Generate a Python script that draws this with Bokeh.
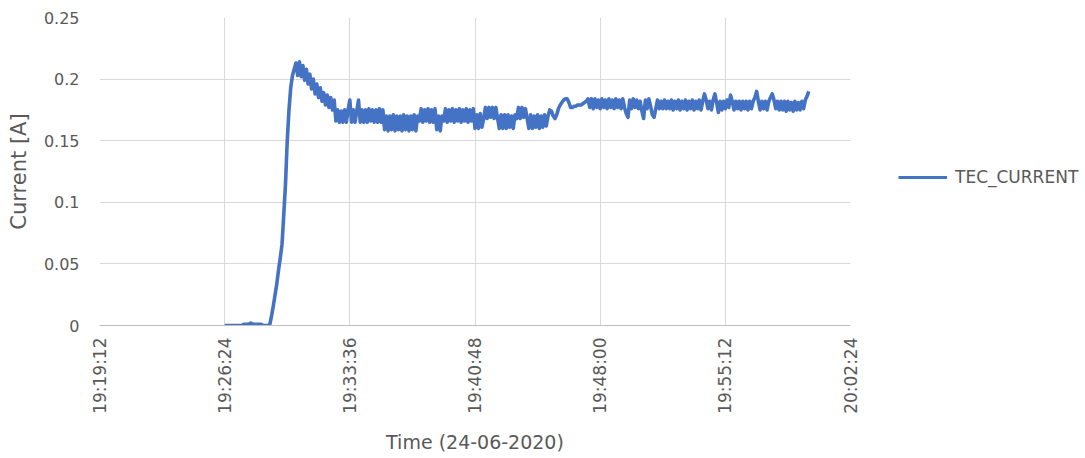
import math
import pandas as pd
from bokeh.plotting import figure
from bokeh.layouts import row
from bokeh.models import Range1d, FixedTicker, DatetimeTickFormatter, Legend, LegendItem, ColumnDataSource
from bokeh.embed import file_html
from bokeh.resources import INLINE

# ---- data ----
series_name = "TEC_CURRENT"
start_time = "2020-06-24 19:26:24"
sample_period = "6s"
current = [
    # 19:26:24
    0.000, 0.000, 0.000, 0.000, 0.000, 0.000, 0.000, 0.000, 0.000, 0.000,
    0.000, 0.001, 0.001, 0.001, 0.001, 0.002, 0.001, 0.001, 0.001, 0.001,
    # 19:28:24
    0.001, 0.001, 0.000, 0.000, 0.000, 0.000, 0.001, 0.008, 0.016, 0.025,
    0.034, 0.045, 0.055, 0.066, 0.090, 0.115, 0.150, 0.175, 0.193, 0.203,
    # 19:30:24
    0.208, 0.213, 0.203, 0.214, 0.202, 0.211, 0.199, 0.208, 0.196, 0.204,
    0.192, 0.200, 0.188, 0.196, 0.185, 0.193, 0.182, 0.189, 0.179, 0.187,
    # 19:32:24
    0.177, 0.185, 0.175, 0.183, 0.166, 0.175, 0.165, 0.174, 0.165, 0.175,
    0.165, 0.175, 0.183, 0.165, 0.175, 0.165, 0.174, 0.183, 0.165, 0.175,
    # 19:34:24
    0.165, 0.175, 0.165, 0.176, 0.166, 0.175, 0.165, 0.175, 0.165, 0.176,
    0.165, 0.175, 0.159, 0.170, 0.158, 0.170, 0.159, 0.171, 0.158, 0.170,
    # 19:36:24
    0.159, 0.170, 0.158, 0.171, 0.159, 0.170, 0.158, 0.170, 0.159, 0.171,
    0.158, 0.170, 0.166, 0.176, 0.165, 0.175, 0.166, 0.176, 0.165, 0.175,
    # 19:38:24
    0.165, 0.176, 0.159, 0.170, 0.158, 0.170, 0.166, 0.176, 0.165, 0.175,
    0.166, 0.176, 0.165, 0.175, 0.166, 0.176, 0.165, 0.175, 0.166, 0.176,
    # 19:40:24
    0.165, 0.175, 0.166, 0.176, 0.160, 0.171, 0.160, 0.172, 0.161, 0.168,
    0.177, 0.168, 0.177, 0.169, 0.177, 0.168, 0.177, 0.168, 0.160, 0.171,
    # 19:42:24
    0.160, 0.171, 0.160, 0.171, 0.161, 0.170, 0.160, 0.171, 0.168, 0.177,
    0.168, 0.177, 0.169, 0.176, 0.168, 0.160, 0.171, 0.160, 0.170, 0.161,
    # 19:44:24
    0.171, 0.160, 0.170, 0.161, 0.171, 0.162, 0.170, 0.175, 0.174, 0.170,
    0.168, 0.171, 0.176, 0.179, 0.181, 0.183, 0.184, 0.184, 0.181, 0.177,
    # 19:46:24
    0.177, 0.178, 0.178, 0.179, 0.179, 0.179, 0.180, 0.181, 0.182, 0.184,
    0.177, 0.184, 0.176, 0.184, 0.177, 0.183, 0.176, 0.184, 0.177, 0.183,
    # 19:48:24
    0.176, 0.184, 0.177, 0.183, 0.176, 0.184, 0.177, 0.183, 0.176, 0.184,
    0.177, 0.172, 0.169, 0.183, 0.176, 0.184, 0.177, 0.183, 0.176, 0.182,
    # 19:50:24
    0.174, 0.168, 0.183, 0.176, 0.184, 0.178, 0.171, 0.169, 0.176, 0.183,
    0.176, 0.182, 0.176, 0.183, 0.176, 0.182, 0.176, 0.183, 0.175, 0.182,
    # 19:52:24
    0.176, 0.183, 0.175, 0.182, 0.176, 0.183, 0.175, 0.182, 0.176, 0.183,
    0.175, 0.182, 0.176, 0.183, 0.175, 0.182, 0.188, 0.183, 0.176, 0.182,
    # 19:54:24
    0.175, 0.183, 0.188, 0.181, 0.173, 0.182, 0.175, 0.182, 0.176, 0.183,
    0.177, 0.187, 0.182, 0.175, 0.182, 0.176, 0.182, 0.175, 0.182, 0.176,
    # 19:56:24
    0.182, 0.175, 0.182, 0.176, 0.182, 0.185, 0.190, 0.182, 0.175, 0.182,
    0.176, 0.182, 0.175, 0.182, 0.185, 0.188, 0.183, 0.176, 0.182, 0.175,
    # 19:58:24
    0.182, 0.175, 0.182, 0.174, 0.182, 0.175, 0.181, 0.174, 0.182, 0.175,
    0.181, 0.175, 0.182, 0.176, 0.183, 0.186, 0.190,
]
x_tick_labels = ["19:19:12", "19:26:24", "19:33:36", "19:40:48", "19:48:00", "19:55:12", "20:02:24"]
y_ticks = [0, 0.05, 0.1, 0.15, 0.2, 0.25]
y_tick_labels = ["0", "0.05", "0.1", "0.15", "0.2", "0.25"]
date_str = "2020-06-24"
x_title = "Time (24-06-2020)"
y_title = "Current [A]"

# ---- build ----
times = pd.date_range(start_time, periods=len(current), freq=sample_period)
src = ColumnDataSource(dict(t=times, v=current))

tick_ts = [pd.Timestamp(f"{date_str} {s}") for s in x_tick_labels]
tick_ms = [ts.value / 1e6 for ts in tick_ts]

FONT = "DejaVu Sans"
TXT = "#595959"
GRID = "#d9d9d9"
BLUE = "#4472c4"
LW = 3.6

p = figure(width=870, height=458, output_backend="svg", toolbar_location=None,
           x_axis_type="datetime",
           x_range=Range1d(tick_ts[0], tick_ts[-1]),
           y_range=Range1d(y_ticks[0], y_ticks[-1]),
           min_border_left=99, min_border_right=20, min_border_top=17, min_border_bottom=133)
p.outline_line_color = None
p.background_fill_color = "white"
p.border_fill_color = "white"

r = p.line("t", "v", source=src, line_color=BLUE, line_width=LW, line_join="round")

# x axis
xa = p.xaxis[0]
xa.ticker = FixedTicker(ticks=tick_ms)
fmt = "%H:%M:%S"
xa.formatter = DatetimeTickFormatter(milliseconds=fmt, seconds=fmt, minsec=fmt, minutes=fmt,
                                     hourmin=fmt, hours=fmt, days=fmt, months=fmt, years=fmt)
xa.major_label_orientation = math.pi / 2
xa.major_tick_line_color = None
xa.minor_tick_line_color = None
xa.major_tick_out = 0
xa.major_label_standoff = 12
xa.axis_line_color = "#bfbfbf"
xa.axis_line_width = 1
xa.major_label_text_font = FONT
xa.major_label_text_font_size = "17px"
xa.major_label_text_color = TXT
xa.axis_label = x_title
xa.axis_label_text_font = FONT
xa.axis_label_text_font_size = "19px"
xa.axis_label_text_font_style = "normal"
xa.axis_label_text_color = TXT
xa.axis_label_standoff = 14

# y axis
ya = p.yaxis[0]
ya.ticker = FixedTicker(ticks=y_ticks)
ya.major_label_overrides = {t: l for t, l in zip(y_ticks, y_tick_labels)}
ya.major_tick_line_color = None
ya.minor_tick_line_color = None
ya.major_tick_out = 0
ya.major_label_standoff = 20
ya.axis_line_color = None
ya.major_label_text_font = FONT
ya.major_label_text_font_size = "16px"
ya.major_label_text_color = TXT
ya.axis_label = y_title
ya.axis_label_text_font = FONT
ya.axis_label_text_font_size = "21px"
ya.axis_label_text_font_style = "normal"
ya.axis_label_text_color = TXT
ya.axis_label_standoff = 10

p.xgrid[0].ticker = FixedTicker(ticks=tick_ms)
p.xgrid[0].grid_line_color = GRID
p.ygrid[0].ticker = FixedTicker(ticks=y_ticks)
p.ygrid[0].grid_line_color = GRID

# legend panel (separate canvas to the right of the chart; its frame is aligned with the chart's)
p2 = figure(width=215, height=458, output_backend="svg", toolbar_location=None,
            x_range=Range1d(0, 1), y_range=Range1d(0, 1),
            x_axis_location=None, y_axis_location=None,
            min_border_left=0, min_border_right=0, min_border_top=17, min_border_bottom=133)
p2.outline_line_color = None
p2.xgrid.visible = False
p2.ygrid.visible = False
# same series, out of this panel's view: only its legend swatch is seen
r2 = p2.line("t", "v", source=src, line_color=BLUE, line_width=3.2)
legend = Legend(items=[LegendItem(label=series_name, renderers=[r2])],
                location=(28, 138), padding=0, margin=0,
                glyph_width=49, glyph_height=20, label_height=20, label_standoff=8,
                label_text_font=FONT, label_text_font_size="17px", label_text_color=TXT,
                border_line_color=None, background_fill_alpha=0)
p2.add_layout(legend, "center")

layout = row(p, p2)
open("out.html", "w").write(file_html(layout, INLINE))
